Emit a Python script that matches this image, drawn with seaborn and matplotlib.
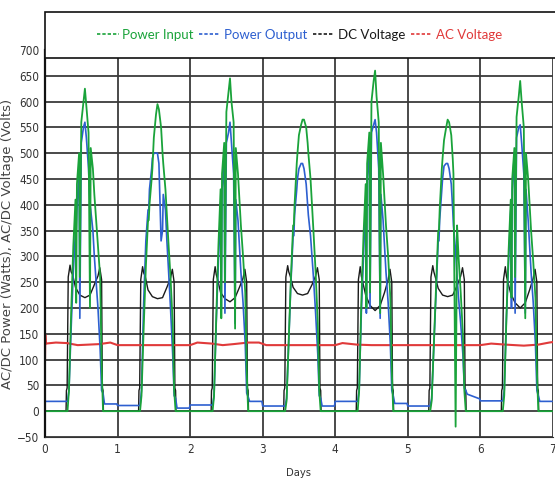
import numpy as np
import pandas as pd
import matplotlib
matplotlib.use("Agg")
import matplotlib.pyplot as plt
import seaborn as sns
from matplotlib.lines import Line2D
from matplotlib.patches import Rectangle

sns.set_style('white')
plt.rcParams['font.family'] = ['DejaVu Sans']
plt.rcParams['font.stretch'] = 'condensed'

days = [0, 1, 2, 3, 4, 5, 6]

# day fractions for the power readings
p_off = [0.00, 0.31, 0.33, 0.36, 0.39, 0.42, 0.43, 0.44, 0.47, 0.48, 0.50, 0.53, 0.55,
         0.57, 0.60, 0.62, 0.63, 0.66, 0.68, 0.70, 0.73, 0.76, 0.78, 0.80, 0.82, 0.99]

power_in = [
    [0, 0, 40, 190, 320, 410, 210, 440, 500, 260, 560, 600, 625, 590, 540, 200, 510, 470, 420, 380, 320, 260, 90, 0, 0, 0],
    [0, 0, 30, 160, 280, 370, 370, 400, 450, 470, 530, 575, 595, 585, 550, 500, 480, 430, 380, 330, 260, 170, 40, 0, 0, 0],
    [0, 0, 30, 180, 320, 430, 180, 460, 520, 250, 580, 620, 645, 600, 560, 160, 510, 460, 410, 360, 300, 230, 80, 0, 0, 0],
    [0, 0, 20, 140, 260, 360, 360, 400, 480, 500, 535, 555, 565, 565, 550, 520, 500, 450, 400, 350, 270, 170, 40, 0, 0, 0],
    [0, 0, 40, 210, 340, 440, 200, 480, 540, 230, 600, 640, 660, 610, 560, 190, 520, 460, 410, 360, 300, 220, 80, 0, 0, 0],
    [0, 0, 20, 130, 240, 350, 350, 390, 470, 490, 525, 550, 565, 560, 535, 490, 460, -30, 360, 300, 230, 150, 40, 0, 0, 0],
    [0, 0, 30, 180, 310, 410, 220, 450, 510, 260, 570, 610, 640, 600, 550, 180, 500, 450, 400, 350, 290, 220, 80, 0, 0, 0],
]

power_out = [
    [19, 19, 40, 160, 270, 350, 350, 390, 470, 180, 520, 550, 560, 530, 470, 400, 390, 350, 300, 260, 200, 120, 40, 35, 14, 14],
    [11, 11, 40, 210, 330, 390, 390, 430, 470, 490, 500, 500, 500, 480, 330, 350, 420, 390, 330, 280, 200, 110, 30, 25, 6, 6],
    [12, 12, 30, 170, 290, 390, 200, 430, 480, 190, 520, 540, 560, 520, 460, 170, 410, 370, 320, 270, 210, 130, 35, 28, 19, 19],
    [10, 10, 25, 140, 250, 340, 340, 380, 430, 450, 470, 480, 480, 470, 440, 400, 380, 340, 300, 260, 190, 110, 30, 25, 10, 10],
    [19, 19, 40, 190, 300, 410, 190, 450, 500, 200, 540, 555, 565, 540, 470, 180, 420, 370, 320, 270, 210, 130, 40, 30, 15, 15],
    [10, 10, 25, 130, 230, 330, 330, 370, 430, 450, 475, 480, 480, 470, 440, 390, 360, 310, 260, 220, 170, 110, 45, 40, 33, 24],
    [20, 20, 40, 180, 290, 390, 200, 430, 500, 190, 530, 550, 555, 520, 460, 190, 430, 370, 320, 270, 210, 130, 40, 30, 19, 19],
]

# day fractions for the DC voltage readings
dc_off = [0.00, 0.29, 0.295, 0.305, 0.32, 0.345, 0.36, 0.38, 0.42, 0.48, 0.55,
          0.62, 0.68, 0.73, 0.755, 0.78, 0.79, 0.80, 0.805, 0.99]

dc_volt = [
    [0, 0, 40, 45, 260, 283, 270, 265, 240, 225, 220, 225, 245, 262, 278, 255, 45, 40, 0, 0],
    [0, 0, 40, 45, 255, 280, 268, 262, 235, 222, 218, 220, 240, 258, 275, 250, 45, 40, 0, 0],
    [0, 0, 40, 45, 255, 280, 265, 255, 230, 218, 212, 220, 240, 258, 275, 250, 45, 40, 0, 0],
    [0, 0, 40, 45, 260, 282, 270, 262, 240, 228, 225, 228, 245, 262, 278, 255, 45, 40, 0, 0],
    [0, 0, 40, 45, 255, 280, 262, 250, 225, 205, 195, 205, 230, 255, 275, 250, 45, 40, 0, 0],
    [0, 0, 40, 45, 260, 282, 270, 260, 238, 225, 222, 225, 243, 262, 278, 255, 45, 40, 0, 0],
    [0, 0, 40, 45, 255, 280, 262, 250, 228, 210, 200, 210, 235, 258, 275, 250, 45, 40, 0, 0],
]

ac_t = [0.0, 0.004, 0.01, 0.15, 0.3, 0.45, 0.6, 0.75, 0.9, 1.0, 1.5, 2.0, 2.1, 2.3, 2.45, 2.6,
        2.8, 2.95, 3.05, 3.5, 4.0, 4.1, 4.3, 4.5, 5.0, 5.5, 6.0, 6.15, 6.35, 6.6, 6.8, 6.95, 7.0]
ac_volt = [100, 148, 131, 133, 132, 128, 129, 130, 133, 128, 128, 128, 133, 131, 128, 130,
           133, 133, 128, 128, 128, 132, 129, 128, 128, 128, 128, 131, 129, 127, 129, 133, 134]

labels = ['Power Input', 'Power Output', 'DC Voltage', 'AC Voltage']
colors = ['#1aa33a', '#2d5fd0', '#1a1a1a', '#e03a3a']


def stack(offsets, per_day):
    t, v = [], []
    for d, vals in zip(days, per_day):
        t += [d + o for o in offsets]
        v += vals
    return pd.DataFrame({'t': t, 'v': v})


df_in = stack(p_off, power_in)
df_out = stack(p_off, power_out)
df_dc = stack(dc_off, dc_volt)
df_ac = pd.DataFrame({'t': ac_t, 'v': ac_volt})

fig = plt.figure(figsize=(5.55, 4.87), dpi=100)
ax = fig.add_axes([0.0811, 0.1027, 0.915, 0.7947])

kw = dict(x='t', y='v', sort=False, estimator=None, ax=ax)
sns.lineplot(data=df_dc, color=colors[2], lw=1.0, **kw)
sns.lineplot(data=df_ac, color=colors[3], lw=1.5, **kw)
sns.lineplot(data=df_out, color=colors[1], lw=1.2, **kw)
sns.lineplot(data=df_in, color=colors[0], lw=1.3, **kw)

ax.set_xlim(0, 7)
ax.set_ylim(-50, 700)
ax.set_xticks(range(0, 8))
ax.set_yticks(range(-50, 701, 50))
ax.grid(True, color='#3a3a3a', lw=1.3)
ax.set_axisbelow(True)
for s in ['top', 'right']:
    ax.spines[s].set_visible(False)
ax.spines['left'].set_color('#111')
ax.spines['left'].set_linewidth(1.6)
ax.spines['bottom'].set_color('#333')
ax.tick_params(axis='both', direction='out', length=3, width=1, color='#333',
               labelsize=8.5, labelcolor='#333', pad=1)
ax.set_xlabel('Days', fontsize=8, color='#333', labelpad=9)
ax.set_ylabel('AC/DC Power (Watts), AC/DC Voltage (Volts)', fontsize=9.5,
              color='#444', fontstretch='normal', labelpad=2)

# legend box above the plot
fig.patches.append(Rectangle((0.0811, 0.8809), 0.93, 0.0945, transform=fig.transFigure,
                             facecolor='white', edgecolor='#111', lw=1.2, zorder=5))
handles = [Line2D([], [], color=c, lw=1.2, ls=(0, (2.0, 1.2))) for c in colors]
fig.legend(handles, labels, loc='center', bbox_to_anchor=(0.54, 0.928), ncol=4,
           frameon=False, prop={'family': 'Lato', 'size': 9.5}, handlelength=1.6,
           handletextpad=0.3, columnspacing=0.4, labelcolor=colors)

fig.savefig('out.png', dpi=100)
